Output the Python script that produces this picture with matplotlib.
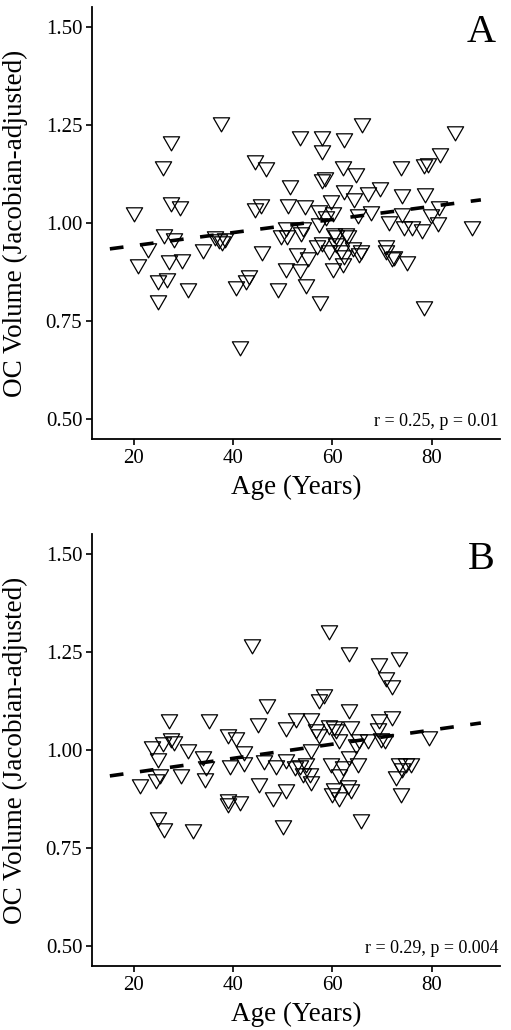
import matplotlib
matplotlib.use('Agg')
import matplotlib.pyplot as plt
from matplotlib.path import Path

# panel A: age (years) and OC volume
age_a = [37.6, 27.6, 25.8, 44.5, 46.7, 51.4, 53.4, 57.9, 62.3, 57.9, 65.9, 84.7,
         81.7, 79.2, 78.5, 62.1, 73.8, 64.7, 58.6, 58.0, 69.6, 67.1, 62.3, 74.0,
         78.7, 64.4, 59.7,
         20.1, 27.6, 29.4, 44.5, 45.7, 51.0, 54.4, 57.4, 60.1, 81.5, 79.8, 88.2,
         67.8, 65.1, 71.5, 74.5, 76.1, 78.1, 81.2, 58.7, 50.7, 54.0, 57.4, 62.8,
         60.7, 58.0, 74.1, 26.0, 28.1, 36.4, 37.1, 37.8, 38.3, 50.8, 49.7, 53.7,
         60.4, 63.1,
         20.9, 22.9, 27.2, 29.8, 24.9, 26.7, 24.9, 30.9, 33.9, 40.6, 43.3, 42.6,
         41.5, 45.9, 49.1, 50.7, 52.8, 57.6, 78.4, 54.7, 53.4, 75.1, 72.5, 70.7,
         60.1, 62.1, 65.8, 57.0, 59.4, 60.7, 61.7, 62.4, 64.1, 65.4, 70.8, 72.1,
         55.0]
vol_a = [1.257, 1.210, 1.145, 1.160, 1.144, 1.097, 1.223, 1.223, 1.216, 1.186, 1.256, 1.235,
         1.179, 1.152, 1.150, 1.146, 1.145, 1.128, 1.118, 1.111, 1.093, 1.080, 1.083, 1.073,
         1.077, 1.063, 1.059,
         1.027, 1.053, 1.043, 1.039, 1.048, 1.048, 1.046, 1.033, 1.029, 1.043, 1.022, 0.993,
         1.031, 1.022, 1.005, 0.993, 0.992, 0.985, 1.002, 1.019, 0.991, 0.991, 0.999, 0.974,
         0.970, 0.952, 1.025, 0.971, 0.961, 0.966, 0.960, 0.955, 0.961, 0.969, 0.969, 0.976,
         0.974, 0.969,
         0.895, 0.935, 0.906, 0.908, 0.855, 0.859, 0.804, 0.835, 0.934, 0.838, 0.867, 0.855,
         0.686, 0.929, 0.835, 0.884, 0.923, 0.801, 0.787, 0.844, 0.882, 0.903, 0.917, 0.944,
         0.884, 0.897, 0.930, 0.944, 0.931, 0.948, 0.931, 0.918, 0.940, 0.923, 0.930, 0.914,
         0.914]

# panel B
age_b = [43.9, 59.3, 63.4, 69.3, 73.5, 70.8, 72.1, 58.4, 57.3, 46.8, 63.4, 72.1,
         69.4, 27.1, 35.1, 45.0, 52.7, 55.7,
         50.7, 69.1, 63.7, 60.4, 59.4, 60.7, 56.8, 38.9, 40.6, 27.6, 25.9, 28.2,
         23.6, 30.9, 42.3, 24.9, 33.9, 57.4, 65.4, 67.1, 69.7, 70.5, 79.5, 61.4,
         64.7, 55.7, 59.7, 63.4, 65.1, 62.1, 54.7, 34.6, 39.3, 42.3, 46.3, 48.7,
         50.7, 53.4, 52.4, 73.5, 74.8, 75.8, 74.1, 25.2,
         21.3, 24.5, 29.6, 34.3, 45.3, 48.1, 50.6, 38.9, 38.9, 41.5, 24.9, 26.2,
         31.9, 50.0, 55.4, 55.7, 61.4, 60.4, 63.1, 60.0, 61.4, 63.7, 65.8, 72.8,
         73.8, 54.0]
vol_b = [1.270, 1.307, 1.249, 1.222, 1.237, 1.186, 1.167, 1.142, 1.129, 1.117, 1.105, 1.087,
         1.078, 1.078, 1.078, 1.068, 1.082, 1.082,
         1.059, 1.057, 1.061, 1.061, 1.065, 1.053, 1.053, 1.040, 1.034, 1.031, 1.020, 1.023,
         1.010, 1.002, 0.997, 0.980, 0.985, 1.040, 1.027, 1.027, 1.031, 1.027, 1.037, 1.027,
         1.015, 1.002, 0.968, 0.985, 0.968, 0.959, 0.968, 0.959, 0.963, 0.969, 0.975, 0.963,
         0.976, 0.963, 0.959, 0.968, 0.966, 0.968, 0.955, 0.938,
         0.914, 0.925, 0.938, 0.929, 0.915, 0.879, 0.900, 0.874, 0.864, 0.870, 0.830, 0.802,
         0.798, 0.808, 0.942, 0.921, 0.938, 0.904, 0.912, 0.890, 0.879, 0.900, 0.823, 0.934,
         0.890, 0.942]

# fitted lines (end points)
fit_age = [15.2, 89.9]
fit_a = [0.934, 1.059]
fit_b = [0.934, 1.069]

panel_labels = ['A', 'B']
stat_labels = ['r = 0.25, p = 0.01', 'r = 0.29, p = 0.004']
y_ticks = [0.50, 0.75, 1.00, 1.25, 1.50]
x_ticks = [20, 40, 60, 80]

plt.rcParams['font.family'] = ['Liberation Serif', 'DejaVu Serif']

# open inverted triangle, centred on its centroid
tri = Path([(0, -1.555), (-1.347, 0.778), (1.347, 0.778), (0, -1.555)], closed=True)

fig = plt.figure(figsize=(5.11, 10.30), dpi=100)
rects = [[0.180, 0.5738, 0.798, 0.4194], [0.180, 0.0621, 0.798, 0.4194]]
panels = [(age_a, vol_a, fit_a), (age_b, vol_b, fit_b)]

for i, (ages, vols, fit) in enumerate(panels):
    ax = fig.add_axes(rects[i])
    ax.plot(ages, vols, linestyle='none', marker=tri, markersize=13.5,
            markerfacecolor='none', markeredgecolor='black', markeredgewidth=0.9)
    ax.plot(fit_age, fit, color='black', linewidth=2.6, linestyle=(0, (3.8, 4.6)),
            solid_capstyle='butt', dash_capstyle='butt')
    ax.set_xlim(11.6, 93.7)
    ax.set_ylim(0.449, 1.551)
    ax.set_xticks(x_ticks)
    ax.set_yticks(y_ticks)
    ax.set_yticklabels([f'{t:.2f}' for t in y_ticks])
    for side in ['top', 'right']:
        ax.spines[side].set_visible(False)
    for side in ['left', 'bottom']:
        ax.spines[side].set_linewidth(1.3)
    ax.tick_params(axis='both', direction='out', length=4, width=1.2,
                   labelsize=15, pad=3, colors='black')
    ax.set_xlabel('Age (Years)', fontsize=19.5)
    ax.set_ylabel('OC Volume (Jacobian-adjusted)', fontsize=19.5)
    ax.xaxis.set_label_coords(0.5, -0.082)
    ax.yaxis.set_label_coords(-0.158, 0.5)
    ax.text(0.955, 0.92, panel_labels[i], transform=ax.transAxes,
            ha='center', va='baseline', fontsize=29)
    ax.text(0.998, 0.03, stat_labels[i], transform=ax.transAxes,
            ha='right', va='baseline', fontsize=13)

fig.savefig('out.png', dpi=100)
